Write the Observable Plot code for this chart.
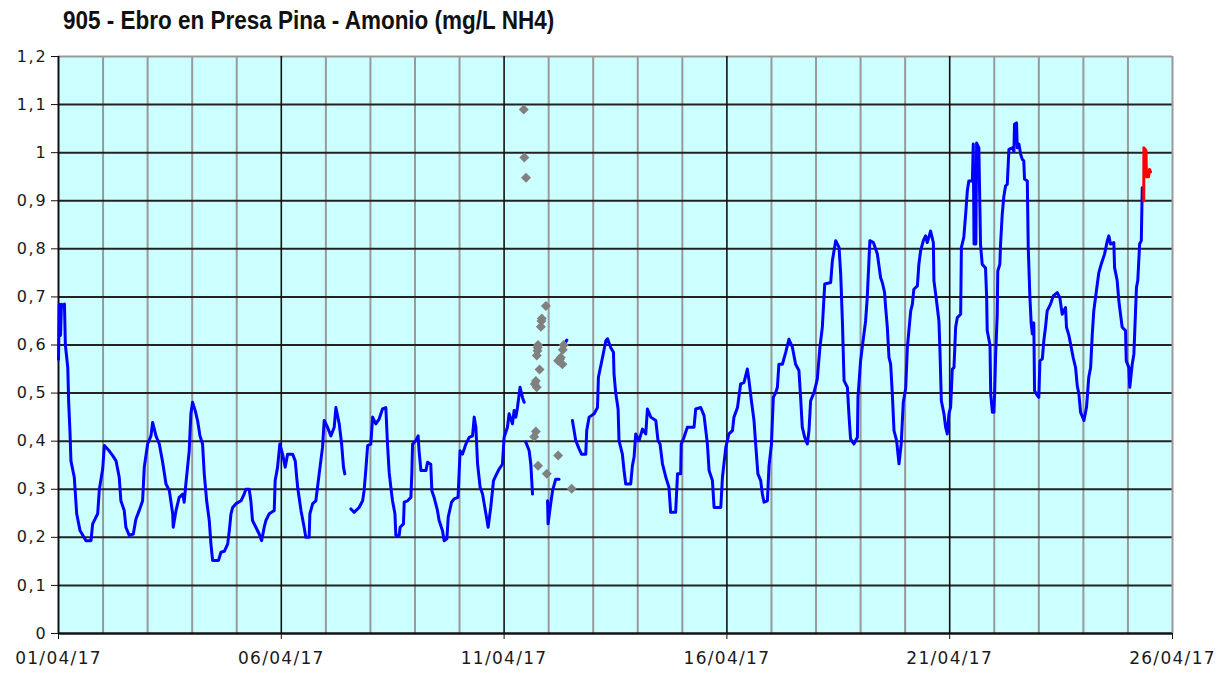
<!DOCTYPE html>
<html><head><meta charset="utf-8">
<script src="https://cdn.jsdelivr.net/npm/d3@7"></script>
<script src="https://cdn.jsdelivr.net/npm/@observablehq/plot@0.6"></script>
<style>
body{margin:0;background:#fff;}
#wrap{position:relative;width:1232px;height:673px;}
#title{position:absolute;left:63px;top:7px;font:bold 26px "Liberation Sans",sans-serif;color:#111;line-height:26px;white-space:nowrap;transform:scaleX(0.865);transform-origin:0 0;z-index:2;}
g[aria-label="x-axis tick label"] text{letter-spacing:1.3px;}
g[aria-label="y-axis tick label"] text{letter-spacing:1.8px;}
</style></head><body><div id="wrap"><div id="title">905 - Ebro en Presa Pina - Amonio (mg/L NH4)</div></div>
<script>
// hours since 01/04/17 00:00, value mg/L NH4 (null = gap)
const bluePoints = [
[0,0.57],[0.4,0.685],[1.1,0.62],[1.6,0.685],[2.4,0.68],[3.2,0.685],[3.7,0.60],[5.0,0.553],[5.5,0.478],[6.2,0.418],[6.7,0.359],[8.5,0.325],[9.8,0.249],[11.6,0.214],[14.8,0.193],[17.5,0.193],[18.4,0.228],[21.1,0.249],[22.0,0.30],[23.8,0.342],[24.7,0.391],[27.3,0.38],[29.2,0.37],[31.0,0.359],[32.7,0.325],[33.6,0.276],[35.4,0.256],[36.3,0.221],[38.1,0.204],[40.3,0.207],[41.7,0.238],[43.5,0.256],[45.3,0.276],[46.2,0.346],[48.0,0.394],[49.8,0.411],[50.7,0.439],[52.5,0.411],[54.3,0.394],[56.1,0.356],[57.9,0.311],[59.7,0.297],[61.5,0.249],[61.8,0.221],[63.3,0.256],[65.0,0.283],[66.9,0.29],[67.7,0.273],[68.6,0.311],[70.4,0.38],[71.3,0.457],[72.2,0.481],[73.6,0.464],[74.9,0.443],[76.2,0.411],[77.6,0.394],[78.5,0.332],[79.8,0.276],[81.2,0.235],[82.1,0.186],[83.0,0.152],[86.2,0.152],[87.5,0.169],[89.3,0.171],[91.1,0.186],[92.0,0.214],[92.9,0.249],[93.8,0.262],[95.6,0.27],[98.3,0.276],[100.0,0.29],[100.9,0.30],[102.7,0.30],[103.6,0.276],[104.5,0.235],[106.3,0.221],[108.1,0.207],[109.4,0.193],[110.8,0.221],[111.7,0.235],[113.5,0.249],[116.2,0.256],[116.7,0.318],[118.0,0.346],[119.2,0.394],[120.7,0.373],[122.1,0.346],[123.4,0.373],[126.1,0.373],[127.5,0.359],[128.8,0.304],[130.6,0.256],[132.3,0.221],[133.2,0.20],[135.0,0.20],[135.4,0.249],[136.9,0.27],[138.6,0.276],[140.4,0.332],[142.2,0.387],[143.1,0.443],[144.9,0.429],[146.7,0.411],[148.5,0.429],[149.4,0.47],[151.2,0.436],[152.5,0.394],[153.5,0.346],[154.2,0.332],[155.5,null],
[157.5,0.259],[159.2,0.252],[161.9,0.262],[163.8,0.276],[164.6,0.297],[165.5,0.339],[166.5,0.391],[168.2,0.394],[169.2,0.45],[170.9,0.436],[172.7,0.446],[174.5,0.467],[176.3,0.47],[177.2,0.394],[178.1,0.335],[179.0,0.304],[179.9,0.276],[181.2,0.249],[181.7,0.204],[183.5,0.204],[184.0,0.221],[185.8,0.228],[186.2,0.273],[188.0,0.276],[189.8,0.283],[190.3,0.332],[190.7,0.394],[192.5,0.401],[193.7,0.411],[194.2,0.38],[195.2,0.339],[197.9,0.339],[198.8,0.356],[200.5,0.352],[201.1,0.297],[202.3,0.283],[204.1,0.256],[205.0,0.235],[206.8,0.214],[207.7,0.193],[209.2,0.197],[209.9,0.242],[211.7,0.273],[213.1,0.28],[215.2,0.283],[216.3,0.38],[217.6,0.373],[219.4,0.394],[221.2,0.408],[223.0,0.411],[223.9,0.45],[224.8,0.429],[225.7,0.353],[227.1,0.304],[228.4,0.29],[230.2,0.249],[231.4,0.221],[232.8,0.262],[234.3,0.318],[235.5,0.328],[237.3,0.342],[239.1,0.352],[240.0,0.408],[241.8,0.429],[242.7,0.457],[244.5,0.436],[245.4,0.464],[246.3,0.45],[247.2,0.47],[248.6,0.512],[249.9,0.491],[250.8,0.481],[251.2,null],
[251.7,0.398],[253.5,0.38],[254.4,0.352],[255.3,0.29],[256.0,null],
[263.4,0.276],[263.7,0.228],[265.1,0.27],[266.1,0.297],[267.8,0.321],[269.6,0.321],[270.0,null],
[272.1,0.60],[273.8,0.61],[274.5,null],
[276.8,0.443],[278.6,0.401],[280.4,0.384],[281.7,0.373],[284.0,0.373],[284.5,0.422],[285.8,0.45],[288.5,0.457],[290.3,0.47],[290.8,0.533],[293.0,0.574],[294.8,0.609],[295.7,0.613],[297.4,0.595],[298.9,0.585],[299.2,0.54],[300.1,0.501],[301.4,0.467],[301.9,0.401],[303.7,0.373],[304.6,0.339],[305.5,0.311],[308.2,0.311],[309.1,0.349],[310.0,0.367],[310.9,0.415],[312.7,0.401],[314.5,0.425],[316.3,0.415],[317.2,0.467],[319.0,0.45],[321.7,0.443],[322.9,0.401],[324.0,0.394],[325.3,0.353],[327.1,0.325],[328.8,0.304],[329.7,0.252],[332.4,0.252],[333.4,0.332],[335.1,0.332],[335.4,0.394],[336.9,0.408],[338.7,0.429],[342.3,0.429],[343.2,0.467],[345.9,0.47],[347.7,0.453],[349.5,0.394],[350.4,0.339],[352.2,0.318],[353.1,0.262],[356.7,0.262],[357.6,0.325],[359.4,0.387],[361.1,0.415],[363.0,0.422],[363.8,0.45],[365.7,0.47],[367.4,0.519],[369.2,0.522],[371.0,0.55],[371.9,0.526],[373.2,0.484],[374.6,0.443],[375.5,0.394],[376.7,0.332],[378.2,0.318],[379.1,0.29],[380.0,0.273],[381.8,0.276],[382.7,0.349],[384.0,0.394],[385.0,0.491],[386.3,0.501],[387.2,0.512],[388.0,0.56],[389.9,0.56],[391.7,0.585],[393.4,0.612],[395.3,0.595],[397.0,0.56],[398.8,0.547],[399.7,0.491],[400.6,0.429],[401.9,0.408],[403.3,0.394],[404.2,0.422],[405.1,0.484],[406.9,0.501],[408.7,0.529],[410.1,0.595],[411.4,0.637],[412.7,0.727],[415.9,0.73],[416.8,0.775],[418.6,0.817],[420.4,0.803],[421.3,0.747],[422.2,0.65],[423.1,0.526],[424.9,0.512],[425.7,0.457],[426.6,0.405],[428.4,0.394],[430.3,0.408],[430.6,0.491],[432.0,0.567],[432.9,0.595],[434.7,0.65],[435.6,0.699],[437.0,0.817],[438.9,0.813],[441.0,0.79],[442.8,0.74],[443.7,0.73],[444.9,0.71],[445.5,0.678],[446.4,0.637],[447.3,0.574],[448.2,0.56],[449.1,0.498],[450.0,0.422],[451.4,0.401],[452.7,0.353],[453.9,0.395],[455.0,0.481],[456.3,0.51],[457.2,0.595],[459.0,0.671],[459.9,0.685],[460.7,0.716],[462.6,0.723],[463.4,0.768],[464.3,0.795],[465.8,0.817],[467.0,0.827],[467.9,0.813],[469.7,0.837],[471.2,0.813],[471.5,0.734],[472.9,0.692],[474.2,0.65],[474.7,0.595],[475.5,0.484],[476.9,0.457],[477.8,0.429],[478.7,0.415],[479.6,0.457],[480.5,0.471],[481.4,0.55],[482.3,0.553],[483.2,0.637],[484.1,0.657],[485.9,0.664],[486.3,0.803],[487.6,0.824],[488.6,0.872],[489.5,0.921],[490.3,0.941],[492.2,0.941],[492.7,1.018],[493.1,0.81],[494.1,0.81],[494.5,1.02],[495.7,1.01],[496.6,0.81],[497.5,0.768],[499.3,0.76],[499.9,0.699],[500.2,0.63],[501.7,0.60],[502.1,0.498],[503.0,0.46],[503.8,0.46],[504.2,0.498],[504.7,0.574],[505.6,0.664],[505.9,0.754],[507.0,0.768],[507.4,0.81],[508.3,0.872],[509.2,0.91],[510.1,0.931],[511.0,0.934],[511.9,1.007],[513.7,1.01],[514.6,1.003],[514.9,1.059],[516.0,1.062],[516.4,1.01],[517.3,1.018],[518.2,0.997],[519.1,0.986],[519.9,0.983],[520.3,0.945],[521.8,0.941],[522.3,0.803],[523.2,0.699],[523.9,0.644],[524.5,0.623],[525.3,0.646],[525.7,0.505],[527.2,0.495],[528.0,0.491],[528.6,0.567],[529.9,0.571],[530.7,0.609],[531.6,0.637],[532.5,0.671],[534.3,0.685],[535.8,0.702],[537.9,0.709],[539.3,0.699],[540.6,0.664],[542.4,0.678],[542.9,0.637],[544.2,0.62],[545.1,0.602],[546.5,0.574],[547.8,0.553],[548.7,0.515],[549.6,0.498],[550.5,0.46],[552.3,0.443],[553.7,0.471],[554.9,0.533],[555.9,0.553],[556.8,0.623],[557.6,0.671],[559.5,0.727],[560.3,0.75],[561.6,0.768],[563.4,0.789],[564.9,0.817],[565.7,0.827],[566.6,0.81],[568.4,0.813],[568.8,0.761],[570.2,0.734],[571.1,0.692],[572.0,0.664],[572.9,0.637],[574.7,0.63],[575.1,0.567],[576.5,0.553],[577.0,0.512],[578.3,0.56],[579.2,0.581],[580.1,0.671],[580.6,0.72],[581.3,0.734],[582.3,0.81],[583.2,0.817],[583.7,0.927]
];
const redPoints = [[584.5,0.90],[584.6,1.01],[585.7,1.005],[586.0,0.95],[587.1,0.95],[587.6,0.965],[588.2,0.96]];
const grayPoints = [[250.6,1.09],[250.9,0.99],[251.8,0.948],[256.2,0.409],[257.1,0.42],[256.5,0.519],[257.6,0.512],[257.1,0.525],[257.6,0.578],[258.0,0.588],[258.1,0.595],[258.3,0.60],[259.1,0.549],[259.8,0.638],[260.1,0.65],[260.3,0.655],[262.5,0.681],[258.3,0.349],[263.0,0.332],[269.1,0.37],[269.1,0.567],[270.0,0.57],[270.5,0.574],[271.4,0.56],[271.6,0.59],[272.1,0.60],[276.4,0.301]];
const xTickLabels = ["01/04/17","06/04/17","11/04/17","16/04/17","21/04/17","26/04/17"];
const yTicks = [0,0.1,0.2,0.3,0.4,0.5,0.6,0.7,0.8,0.9,1.0,1.1,1.2];

const start = Date.UTC(2017, 3, 1);
const toDate = h => new Date(start + h * 3600e3);
const parseLabel = d3.utcParse("%d/%m/%y");
const majorDates = xTickLabels.map(parseLabel);
const x0 = majorDates[0], x1 = majorDates[majorDates.length - 1];
const allDays = d3.utcDay.range(x0, new Date(+x1 + 1));
const minorDays = allDays.filter(d => !majorDates.some(m => +m === +d));
const blue = bluePoints.map(([h, v]) => ({t: toDate(h), v}));
const red = redPoints.map(([h, v]) => ({t: toDate(h), v}));
const gray = grayPoints.map(([h, v]) => ({t: toDate(h), v}));
const fmtY = d => d3.format(".1f")(d).replace(/\.0$/, "").replace(".", ",");

const chart = Plot.plot({
  width: 1232, height: 673,
  marginTop: 56, marginLeft: 58, marginRight: 60, marginBottom: 40,
  x: {type: "utc", domain: [x0, x1]},
  y: {domain: [0, 1.2]},
  style: {fontFamily: "'DejaVu Sans', sans-serif", fontSize: "16px", color: "#1a1a1a", background: "transparent", overflow: "visible"},
  marks: [
    Plot.frame({fill: "#ccffff", stroke: null}),
    Plot.ruleX(minorDays, {stroke: "#999", strokeWidth: 2}),
    Plot.ruleY(yTicks.slice(0, -1), {stroke: "#222", strokeWidth: 2}),
    Plot.ruleY([1.2], {stroke: "#999", strokeWidth: 2}),
    Plot.ruleX(majorDates.slice(1, -1), {stroke: "#111", strokeWidth: 1.6}),
    Plot.ruleX([x1], {stroke: "#999", strokeWidth: 2}),
    Plot.ruleX([x0], {stroke: "#111", strokeWidth: 2}),
    Plot.ruleY([0], {stroke: "#111", strokeWidth: 2}),
    Plot.axisY({ticks: yTicks, tickFormat: fmtY, tickSize: 7, tickPadding: 4, fontSize: 16, stroke: "#111", fill: "#1a1a1a", label: null}),
    Plot.axisX({ticks: majorDates, tickFormat: d3.utcFormat("%d/%m/%y"), tickSize: 6, tickPadding: 12, fontSize: 17, stroke: "#111", fill: "#1a1a1a", label: null}),
    Plot.line(blue, {x: "t", y: "v", stroke: "#0000ff", strokeWidth: 3}),
    Plot.line(red, {x: "t", y: "v", stroke: "#ff0000", strokeWidth: 3}),
    Plot.dot(gray, {x: "t", y: "v", symbol: "diamond2", fill: "#808080", stroke: null, r: 4.5})
  ]
});
document.getElementById("wrap").prepend(chart);
chart.style.position = "absolute";
chart.style.left = "0";
chart.style.top = "0";
</script></body></html>
